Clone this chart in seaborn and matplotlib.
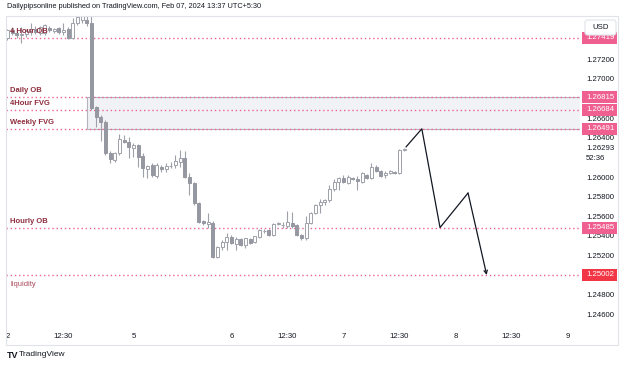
import numpy as np
import pandas as pd
import matplotlib
matplotlib.use("Agg")
import matplotlib.pyplot as plt
import matplotlib.transforms as mtransforms
from matplotlib.patches import Rectangle, FancyBboxPatch
import seaborn as sns

# ---------------- data ----------------
opens = [1.2742, 1.2750, 1.2747, 1.2745, 1.2746, 1.2749, 1.2751, 1.2747, 1.2747, 1.2752,
         1.2749, 1.2752, 1.2748, 1.2751, 1.2742, 1.2757, 1.2760, 1.2760, 1.2757, 1.2671,
         1.2661, 1.2656, 1.2624, 1.2617, 1.2624, 1.2638, 1.2636, 1.2630, 1.2633, 1.2621,
         1.2608, 1.2612, 1.2601, 1.2610, 1.2608, 1.2611, 1.2612, 1.2615, 1.2619, 1.2600,
         1.2594, 1.2574, 1.2555, 1.2552, 1.2553, 1.2519, 1.2529, 1.2534, 1.2539, 1.2532,
         1.2537, 1.2531, 1.2537, 1.2534, 1.2539, 1.2545, 1.2546, 1.2541, 1.2552, 1.2551,
         1.2550, 1.2553, 1.2551, 1.2541, 1.2538, 1.2553, 1.2563, 1.2571, 1.2575, 1.2577,
         1.2588, 1.2595, 1.2599, 1.2594, 1.2599, 1.2598, 1.2595, 1.2602, 1.2599, 1.2610,
         1.2606, 1.2602, 1.2604, 1.2605, 1.2604, 1.2628]
highs = [1.2751, 1.2753, 1.2749, 1.2753, 1.2751, 1.2757, 1.2754, 1.2754, 1.2756, 1.2754,
         1.2752, 1.2753, 1.2757, 1.2753, 1.2762, 1.2768, 1.2768, 1.2765, 1.2766, 1.2672,
         1.2663, 1.2658, 1.2626, 1.2625, 1.2644, 1.2643, 1.2641, 1.2635, 1.2634, 1.2624,
         1.2612, 1.2614, 1.2614, 1.2612, 1.2614, 1.2615, 1.2622, 1.2628, 1.2627, 1.2604,
         1.2595, 1.2575, 1.2556, 1.2563, 1.2555, 1.2530, 1.2536, 1.2543, 1.2541, 1.2539,
         1.2538, 1.2538, 1.2538, 1.2540, 1.2547, 1.2547, 1.2547, 1.2553, 1.2554, 1.2554,
         1.2565, 1.2564, 1.2552, 1.2542, 1.2560, 1.2564, 1.2573, 1.2578, 1.2578, 1.2592,
         1.2598, 1.2600, 1.2602, 1.2602, 1.2600, 1.2601, 1.2605, 1.2603, 1.2614, 1.2612,
         1.2607, 1.2606, 1.2607, 1.2606, 1.2629, 1.2630]
lows = [1.2740, 1.2745, 1.2742, 1.2737, 1.2743, 1.2745, 1.2746, 1.2745, 1.2745, 1.2748,
        1.2747, 1.2746, 1.2745, 1.2741, 1.2741, 1.2755, 1.2757, 1.2754, 1.2668, 1.2651,
        1.2637, 1.2622, 1.2614, 1.2615, 1.2622, 1.2635, 1.2619, 1.2620, 1.2610, 1.2600,
        1.2599, 1.2600, 1.2599, 1.2605, 1.2605, 1.2609, 1.2609, 1.2610, 1.2599, 1.2582,
        1.2572, 1.2553, 1.2551, 1.2548, 1.2518, 1.2518, 1.2526, 1.2526, 1.2532, 1.2526,
        1.2530, 1.2528, 1.2532, 1.2533, 1.2538, 1.2543, 1.2540, 1.2540, 1.2551, 1.2548,
        1.2548, 1.2548, 1.2540, 1.2536, 1.2536, 1.2552, 1.2562, 1.2563, 1.2572, 1.2575,
        1.2586, 1.2587, 1.2594, 1.2593, 1.2597, 1.2587, 1.2594, 1.2598, 1.2598, 1.2605,
        1.2600, 1.2599, 1.2603, 1.2603, 1.2603, 1.2627]
closes = [1.2750, 1.2747, 1.2745, 1.2746, 1.2749, 1.2751, 1.2748, 1.2753, 1.2755, 1.2750,
          1.2751, 1.2748, 1.2750, 1.2742, 1.2757, 1.2763, 1.2764, 1.2757, 1.2670, 1.2661,
          1.2656, 1.2624, 1.2618, 1.2624, 1.2639, 1.2636, 1.2631, 1.2633, 1.2620, 1.2609,
          1.2611, 1.2602, 1.2612, 1.2608, 1.2611, 1.2611, 1.2616, 1.2619, 1.2600, 1.2594,
          1.2574, 1.2554, 1.2553, 1.2554, 1.2519, 1.2529, 1.2534, 1.2539, 1.2533, 1.2537,
          1.2531, 1.2538, 1.2533, 1.2540, 1.2546, 1.2545, 1.2541, 1.2552, 1.2553, 1.2551,
          1.2554, 1.2550, 1.2541, 1.2538, 1.2553, 1.2563, 1.2572, 1.2575, 1.2577, 1.2588,
          1.2595, 1.2599, 1.2595, 1.2600, 1.2598, 1.2596, 1.2604, 1.2599, 1.2610, 1.2606,
          1.2601, 1.2604, 1.2606, 1.2604, 1.2628, 1.2629]

time_tick_bars = [0, 12, 27, 48, 60, 72, 84, 96, 108, 120]
time_tick_labels = ["2", "12:30", "5", "6", "12:30", "7", "12:30", "8", "12:30", "9"]
price_ticks = [1.27200, 1.27000, 1.26600, 1.26400, 1.26000, 1.25800,
               1.25600, 1.25400, 1.25200, 1.24800, 1.24600]

level_names = ["4 Hour OB", "Daily OB", "4Hour FVG", "Weekly FVG", "Hourly OB", "liquidity"]
level_prices = [1.27419, 1.26815, 1.26684, 1.26491, 1.25485, 1.25002]
zone_low, zone_high, zone_start_bar = 1.26491, 1.26815, 17.1

proj_bars = [85.4, 88.8, 92.7, 98.7, 102.7]
proj_prices = [1.26306, 1.26491, 1.25485, 1.25837, 1.25002]

last_price = 1.26293
countdown = "52:36"
title = "Dailypipsonline published on TradingView.com, Feb 07, 2024 13:37 UTC+5:30"

# ---------------- style ----------------
sns.set_style("white")
plt.rcParams['font.family'] = ['Liberation Sans', 'DejaVu Sans']

W, H = 625, 367
fig = plt.figure(figsize=(W / 100, H / 100), dpi=100)
fig.patch.set_facecolor("white")

def fx(px):
    return px / W

def fy(py):
    return 1 - py / H

ax_left, ax_right, ax_top, ax_bot = 6, 580, 17, 328
ax = fig.add_axes([fx(ax_left), fy(ax_bot), fx(ax_right - ax_left), (ax_bot - ax_top) / H])
ax.set_facecolor("none")
for s in ax.spines.values():
    s.set_visible(False)

px_per_bar = 4.667
x0 = -0.3
ax.set_xlim(x0, x0 + (ax_right - ax_left) / px_per_bar)
ax.set_ylim(1.24462, 1.27630)

TXT = "#131722"
GRAY = "#9ea1aa"
PINK = "#f06292"
MAROON = "#8e2c3c"

# zone box
ax.add_patch(Rectangle((zone_start_bar, zone_low), 200, zone_high - zone_low,
                       facecolor="#f1f2f6", edgecolor="#b2b5be", lw=0.8, zorder=1))

# dotted levels
for p in level_prices:
    ax.axhline(p, color=PINK, lw=1.0, ls=(0, (1, 2)), zorder=2)

# candles
df = pd.DataFrame({"o": opens, "h": highs, "l": lows, "c": closes})
df["x"] = np.arange(len(df))
up = df["c"] >= df["o"]
ax.vlines(df["x"], df["l"], df["h"], color=GRAY, lw=0.8, zorder=3)
body_bot = np.minimum(df["o"], df["c"])
body_h = np.maximum(np.abs(df["c"] - df["o"]), 0.00003)
ax.bar(df["x"][up], body_h[up], bottom=body_bot[up], width=0.62,
       facecolor="white", edgecolor=GRAY, lw=0.7, zorder=4)
ax.bar(df["x"][~up], body_h[~up], bottom=body_bot[~up], width=0.62,
       facecolor="#9598a1", edgecolor="#9598a1", lw=0.7, zorder=4)

# projection path
sns.lineplot(x=proj_bars[:-1], y=proj_prices[:-1], sort=False, ax=ax,
             color=TXT, lw=0.9, zorder=6, legend=False)
ax.annotate("", xy=(proj_bars[-1], proj_prices[-1]), xytext=(proj_bars[-2], proj_prices[-2]),
            arrowprops=dict(arrowstyle="->", color=TXT, lw=0.9, mutation_scale=6,
                            shrinkA=0, shrinkB=0), zorder=6)

# level labels
blend = mtransforms.blended_transform_factory(ax.transAxes, ax.transData)
for name, p in zip(level_names, level_prices):
    if name == "liquidity":
        ax.annotate(name, xy=(0.007, p), xycoords=blend, xytext=(0, -4.3),
                    textcoords="offset points", va="top", ha="left",
                    fontsize=5.4, color="#a8485a", zorder=7)
    else:
        ax.annotate(name, xy=(0.007, p), xycoords=blend, xytext=(0, 2),
                    textcoords="offset points", va="bottom", ha="left",
                    fontsize=5.5, color=MAROON, fontweight="bold", zorder=7)

# axes ticks
ax.set_xticks(time_tick_bars)
ax.set_xticklabels(time_tick_labels)
ax.yaxis.tick_right()
ax.set_yticks(price_ticks)
ax.set_yticklabels([f"{v:.5f}" for v in price_ticks])
ax.tick_params(axis="both", length=0, labelsize=5.6, labelcolor=TXT)
ax.tick_params(axis="y", pad=4.5)
ax.tick_params(axis="x", pad=3.5)

# price scale overlays
ax2 = fig.add_axes([fx(ax_right), fy(ax_bot), fx(618 - ax_right), (ax_bot - ax_top) / H], sharey=ax)
ax2.set_xlim(0, 1)
ax2.axis("off")
box_h = 12 * (1.27630 - 1.24462) / (ax_bot - ax_top)
for name, p in zip(level_names, level_prices):
    col = "#f23645" if name == "liquidity" else "#ef5f8f"
    ax2.add_patch(Rectangle((0.05, p - box_h / 2), 0.92, box_h, facecolor=col,
                            edgecolor="none", zorder=3, clip_on=False))
    ax2.text(0.16, p, f"{p:.5f}", color="white", fontsize=5.6, va="center",
             ha="left", zorder=4, clip_on=False)
ax2.text(0.16, last_price, f"{last_price:.5f}", color=TXT, fontsize=5.6, va="center", ha="left")
ax2.annotate(countdown, xy=(0.16, last_price), xytext=(0, -7.5), textcoords="offset points",
             color=TXT, fontsize=5.6, va="center", ha="left")

# USD box
idt = mtransforms.IdentityTransform()
usd = FancyBboxPatch((585, H - 35), 31, 15, boxstyle="round,pad=0,rounding_size=2.5",
                     facecolor="white", edgecolor="#e0e3eb", lw=0.8, transform=idt, zorder=10)
fig.patches.append(usd)
fig.text(fx(600.5), fy(27.5), "USD", fontsize=5.6, color=TXT, ha="center", va="center", zorder=11)

# outer frame
frame = Rectangle((fx(6), fy(345)), fx(612), (345 - 16) / H, transform=fig.transFigure,
                  facecolor="none", edgecolor="#e0e3eb", lw=0.8, zorder=0)
fig.patches.append(frame)

# header / footer
fig.text(fx(7), fy(7), title, fontsize=5.3, color=TXT, ha="left", va="center")
fig.text(fx(7), fy(355), "TV", fontsize=6.5, color=TXT, fontweight="bold", ha="left", va="center")
fig.text(fx(19), fy(355), "TradingView", fontsize=6, color=TXT, ha="left", va="center")

fig.savefig("out.png", dpi=100)
